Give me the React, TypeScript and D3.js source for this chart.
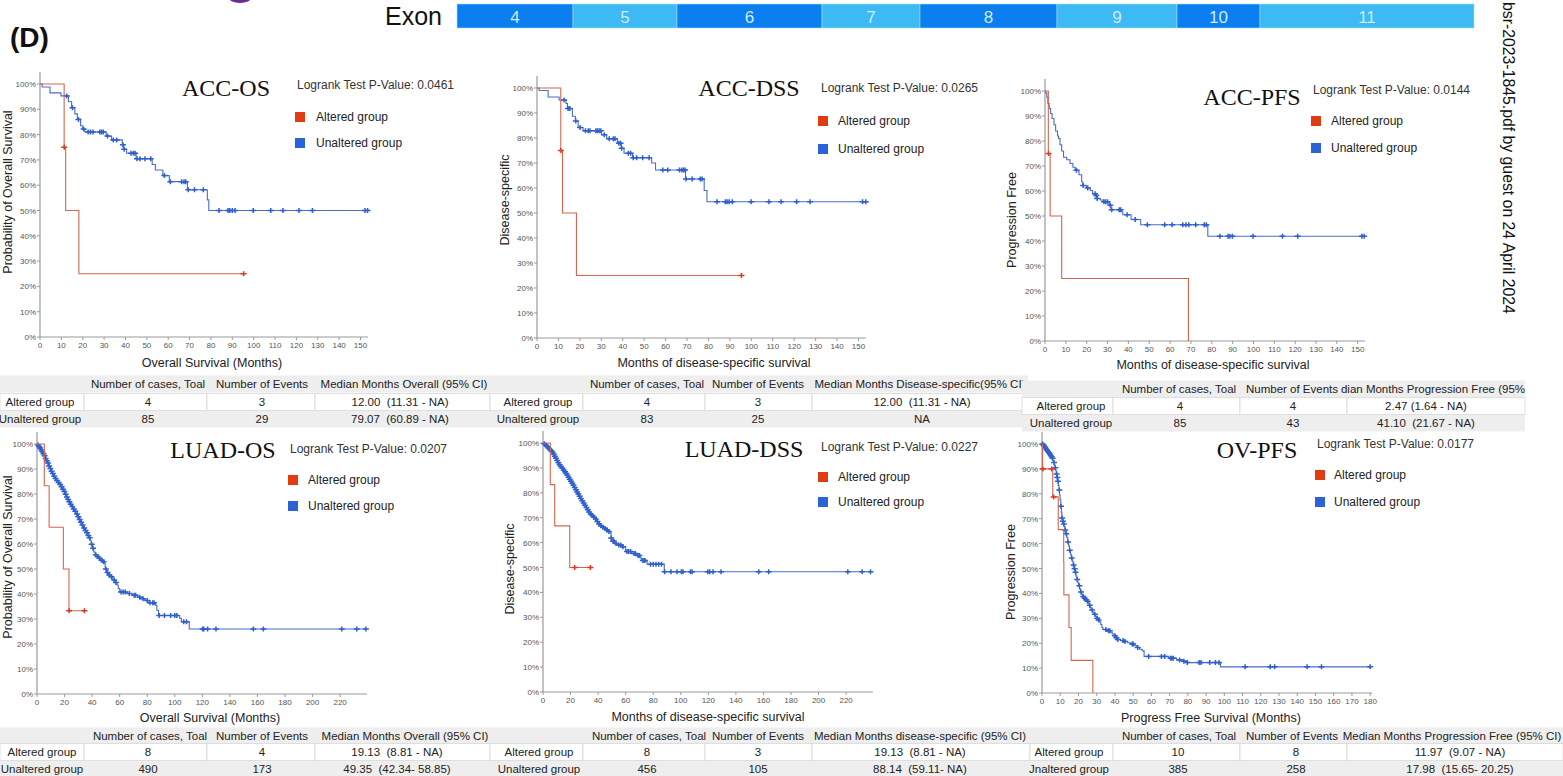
import React from "react";
import * as d3 from "d3";

type Step = [number, number];

// ---------- exon strip ----------
const exonLabels = ["4", "5", "6", "7", "8", "9", "10", "11"];
const exonLengths = [116, 104, 145, 98, 137, 120, 83, 214];

// ---------- ACC overall survival ----------
const accOsAltSteps: Step[] = [[11.3, 75], [12.0, 50], [18.2, 25]];
const accOsAltCens = [11.35, 95.3];
const accOsUnaltSteps: Step[] = [
  [1, 98.8], [4.7, 96.5], [9.8, 95.3], [13.3, 93.0], [14.8, 90.6], [16.3, 88.2], [17.5, 86.0],
  [19, 83.5], [20, 82.2], [21, 81.0], [31, 79.4], [33.5, 77.9], [38.5, 76.0], [39.2, 74.2],
  [40.5, 72.6], [45, 70.5], [52.5, 68.2], [54, 66.0], [57.5, 63.8], [60.5, 61.4], [69, 58.2],
  [78.3, 54.2], [79, 50.0],
];
const accOsUnaltCens = [
  12.5, 15.2, 18, 20.4, 22.5, 23.6, 24.8, 28, 28.8, 29.6, 31.6, 34.3, 35.9, 38.8, 39.4, 42.6,
  43.7, 44.5, 45.4, 46.8, 49.1, 51.8, 58.2, 61, 66.3, 67.4, 68.2, 69.4, 72.3, 76.4, 83.8, 88,
  88.8, 90, 91.3, 99.8, 108, 113.7, 121.2, 127.5, 152.1, 153.3,
];

// ---------- ACC disease-specific survival ----------
const accDssAltSteps: Step[] = [[11.1, 75], [11.9, 50], [18.4, 25]];
const accDssAltCens = [11.15, 95.4];
const accDssUnaltSteps: Step[] = [
  [1, 99.0], [5.2, 96.4], [10.3, 95.2], [13.5, 93.8], [14.2, 91.8], [16.5, 88.7], [17.9, 86.8],
  [19.2, 84.2], [21.5, 82.9], [30.1, 81.3], [32.5, 79.7], [37.5, 77.9], [39.3, 75.9], [40.6, 73.9],
  [44.6, 72.1], [53.5, 70.0], [55.3, 67.2], [69.3, 63.6], [78, 59.0], [79.3, 54.5],
];
const accDssUnaltCens = [
  12.6, 14.5, 15.3, 18.1, 20.1, 22.6, 23.9, 24.7, 27.5, 28.2, 29, 29.8, 31.4, 33.7, 35.6, 36.4,
  38.2, 39, 39.5, 42.6, 43.7, 44.9, 46.5, 49.3, 52.3, 58.7, 61, 66.5, 67.6, 68.4, 69.1, 69.5,
  72.4, 76.2, 77, 84, 87.9, 88.7, 89.6, 91.1, 99.9, 108.2, 113.9, 121.1, 127.4, 151.9, 153.4,
];

// ---------- ACC progression-free survival ----------
const accPfsAltSteps: Step[] = [[1.6, 75], [2.47, 50], [8, 25], [68.8, 0]];
const accPfsAltCens = [1.7];
const accPfsUnaltSteps: Step[] = [
  [0.3, 99.2], [0.9, 97.5], [1.4, 95.0], [2, 93.0], [2.7, 91.0], [3.4, 89.0], [4.3, 86.5],
  [5.1, 84.0], [6, 82.0], [6.5, 81.0], [7.2, 78.5], [8, 76.0], [8.9, 73.5], [10.4, 72.5],
  [12, 71.0], [13.4, 69.5], [14.5, 68.3], [16.3, 66.5], [17.6, 63.7], [18.1, 62.2], [20, 61.2],
  [21.7, 60.2], [22.8, 58.9], [24.2, 58.2], [24.8, 57.0], [26.5, 56.4], [28, 55.7], [30.8, 54.3],
  [31.7, 52.5], [36.8, 51.7], [37.3, 50.5], [41.3, 48.6], [45.9, 46.5], [78.1, 41.9],
];
const accPfsUnaltCens = [
  15.1, 18.3, 20.5, 24, 24.6, 25, 28.3, 29.1, 30, 31.3, 32, 35.6, 36.3, 39.4, 43.3, 49.1, 57.4,
  61, 66.1, 67.6, 69, 72.3, 76.4, 77.4, 83.9, 87.8, 88.7, 89.9, 99.8, 113.9, 121.2, 152, 153.1,
];

// ---------- LUAD overall survival ----------
const luadOsAltSteps: Step[] = [[5.3, 83.3], [8.8, 66.7], [19.1, 50], [23.2, 33.3]];
const luadOsAltCens = [23.3, 34.4];
const luadOsUnaltSteps: Step[] = [
  [0.5, 99.6], [1.2, 99.0], [2, 98.4], [2.8, 97.6], [3.5, 96.9], [4.3, 96.1], [5.1, 95.3],
  [6, 94.2], [6.8, 93.3], [7.6, 92.4], [8.5, 91.2], [9.3, 90.2], [10.2, 89.1], [11, 88.2],
  [12, 87.1], [13, 86.2], [14, 85.4], [15.2, 84.6], [16.3, 83.8], [17.4, 82.9], [18.4, 81.9],
  [19.5, 81.0], [20.4, 79.9], [21.2, 78.8], [22.1, 77.8], [23, 76.9], [24, 75.9], [25, 75.0],
  [26.2, 74.0], [27.3, 73.1], [28.5, 72.0], [29.5, 70.9], [30.6, 69.8], [31.5, 68.7], [32.6, 67.6],
  [33.6, 66.4], [34.7, 65.4], [35.8, 64.5], [36.9, 63.4], [37.8, 62.5], [38.6, 61.4], [39.3, 59.9],
  [40.2, 58.3], [41.2, 56.8], [42.2, 55.7], [43.5, 55.0], [44.8, 54.3], [46, 53.5], [47.5, 52.9],
  [48.8, 52.2], [49.5, 50.0], [50.5, 48.6], [51.8, 47.6], [53.2, 46.9], [55, 45.6], [56.5, 44.6],
  [58, 43.6], [59, 42.2], [60, 40.8], [65.5, 40.2], [69, 39.5], [73, 38.7], [76, 38.1],
  [78.5, 37.4], [80.5, 36.5], [86, 35.5], [87, 33.4], [88.2, 31.4], [103.5, 30.3], [104.8, 28.9],
  [110.5, 26.0],
];
const luadOsUnaltCens = [
  0.8, 1.5, 2.3, 3.1, 3.9, 4.7, 5.5, 6.3, 7.1, 8, 8.8, 9.7, 10.6, 11.5, 12.5, 13.5, 14.6, 15.7,
  16.8, 17.9, 18.9, 19.9, 20.8, 21.7, 22.6, 23.5, 24.5, 25.6, 26.7, 27.8, 29, 30, 31, 32, 33,
  34.2, 35.2, 36.3, 37.3, 38.2, 39.7, 40.7, 42.7, 44, 45.3, 47, 48.3, 50, 51.2, 52.5, 54, 56,
  57.3, 61, 62.5, 64, 67, 70.5, 71.5, 74.5, 77, 80, 82, 84, 85, 88.7, 92.5, 97, 100, 101.5,
  106.5, 108.5, 120.2, 121, 123.8, 129.9, 157, 164.3, 221.2, 232.1, 238.7,
];

// ---------- LUAD disease-specific survival ----------
const luadDssAltSteps: Step[] = [[5.3, 83.3], [8.5, 66.7], [19.4, 50]];
const luadDssAltCens = [23, 34.4];
const luadDssUnaltSteps: Step[] = [
  [0.6, 99.7], [1.5, 99.2], [2.5, 98.6], [3.5, 98.0], [4.5, 97.4], [5.5, 96.9], [6.5, 96.3],
  [7.4, 95.5], [8.2, 94.7], [9, 93.9], [9.9, 93.0], [10.8, 92.1], [11.7, 91.3], [12.6, 90.6],
  [13.5, 89.9], [14.5, 89.2], [15.5, 88.5], [16.4, 87.8], [17.3, 87.0], [18.2, 86.2], [19, 85.4],
  [19.9, 84.6], [20.8, 83.8], [21.7, 83.0], [22.6, 82.1], [23.5, 81.2], [24.4, 80.3], [25.3, 79.5],
  [26.2, 78.6], [27.1, 77.7], [28, 76.8], [29, 75.9], [30, 75.0], [31, 74.1], [32, 73.2],
  [33, 72.3], [34.1, 71.5], [35.2, 70.9], [36.5, 70.2], [37.8, 69.5], [39, 68.5], [40.2, 67.5],
  [41.5, 66.8], [43, 66.2], [44.5, 65.7], [46, 65.1], [47.2, 64.5], [48.6, 63.9], [49.4, 61.8],
  [50, 60.5], [52, 59.6], [54.5, 59.0], [57, 58.3], [60, 56.4], [64.5, 55.6], [68, 54.8],
  [70.5, 53.8], [71.5, 52.8], [75.5, 51.3], [88, 48.3],
];
const luadDssUnaltCens = [
  1, 2, 3, 4, 5, 6, 7, 7.8, 8.6, 9.4, 10.3, 11.2, 12.1, 13, 14, 15, 16, 16.8, 17.7, 18.6, 19.4,
  20.3, 21.2, 22.1, 23, 24, 24.8, 25.7, 26.6, 27.5, 28.5, 29.5, 30.5, 31.5, 32.5, 33.5, 34.6,
  35.8, 37, 38.3, 39.5, 40.8, 42, 43.6, 45, 46.5, 47.8, 49.5, 50.8, 51.5, 53, 55, 56.5, 58, 61,
  62, 63.5, 66, 67, 69, 70, 72.5, 73.5, 74, 78, 80, 82, 84, 86, 88.3, 92.9, 97.3, 100.4, 101.6,
  107, 108.2, 119.6, 121, 123.4, 129.2, 156.6, 163.8, 221.2, 231.6, 237.7,
];

// ---------- OV progression-free survival ----------
const ovPfsAltSteps: Step[] = [
  [0.3, 90], [5.9, 78.75], [8.9, 65.6], [11.9, 52.5], [12.0, 39.4], [14.8, 26.3], [16, 13.1], [27.9, 0],
];
const ovPfsAltCens = [0.5, 5.3, 6.4];
const ovPfsUnaltSteps: Step[] = [
  [0.4, 99.6], [0.9, 99.1], [1.4, 98.6], [1.9, 98.0], [2.4, 97.5], [2.9, 97.0], [3.4, 96.5],
  [3.9, 96.0], [4.4, 95.4], [4.9, 94.9], [5.4, 94.3], [5.9, 93.5], [6.3, 92.6], [6.7, 91.6],
  [7.1, 90.5], [7.5, 89.4], [7.8, 88.0], [8.1, 86.5], [8.5, 85.0], [8.9, 83.4], [9.3, 81.5],
  [9.6, 79.5], [9.9, 77.6], [10.3, 75.0], [10.6, 72.6], [10.9, 70.3], [11.3, 69.0], [11.7, 67.9],
  [12.1, 66.8], [12.6, 65.5], [13.1, 64.0], [13.6, 62.5], [14.1, 60.6], [14.6, 59.0], [15.1, 57.3],
  [15.6, 55.7], [16.1, 54.2], [16.6, 52.9], [17.1, 51.4], [17.6, 49.9], [18.1, 48.5], [18.6, 47.0],
  [19.1, 45.6], [19.6, 44.3], [20.1, 43.1], [20.6, 41.8], [21.1, 40.6], [21.7, 39.7], [22.3, 38.8],
  [23, 38.1], [23.8, 37.4], [24.6, 36.8], [25.3, 36.2], [25.9, 35.2], [26.5, 34.2], [27.1, 33.3],
  [27.8, 32.4], [28.5, 31.6], [29.2, 30.8], [30, 30.0], [30.8, 29.3], [31.5, 28.6], [32.2, 27.5],
  [32.8, 26.4], [33.4, 25.5], [35.5, 25.0], [37.5, 24.4], [38.5, 23.7], [39.5, 23.0], [40.5, 22.2],
  [41.3, 21.5], [43, 21.1], [45.2, 20.7], [47, 20.2], [48.5, 19.7], [50.5, 19.0], [52, 18.3],
  [53.5, 17.6], [55, 16.9], [56, 14.7], [69.5, 14.0], [73.8, 13.3], [77, 12.8], [79.7, 12.2],
  [97.9, 10.5],
];
const ovPfsUnaltCens = [
  0.3, 0.8, 1.3, 1.8, 2.3, 2.8, 3.3, 3.8, 4.3, 4.8, 5.3, 5.8, 6.6, 7.3, 8.0, 8.4, 8.8, 9.5, 10.4,
  11.0, 11.5, 12, 12.7, 13.3, 14.3, 15.2, 16.3, 17.3, 17.9, 18.4, 19.3, 20.5, 21.4, 22.6, 23.4,
  24.2, 25, 26.2, 27.5, 29, 30.3, 31, 35, 36.5, 37.2, 40, 40.8, 41.6, 44.5, 45.5, 49.5, 50, 52.5,
  58.5, 65.5, 67.3, 70.5, 71.2, 72, 75.5, 77.8, 79.7, 86.2, 87.2, 92, 95.1, 97.1, 111.4, 125.2,
  127.6, 145.4, 153.3, 180,
];

// ---------- summary tables ----------
const groupLabels = ["Altered group", "Unaltered group"];
const accOsHead = ["Number of cases, Toal", "Number of Events", "Median Months Overall (95% CI)"];
const accOsRows = [["4", "3", "12.00  (11.31 - NA)"], ["85", "29", "79.07  (60.89 - NA)"]];
const accDssHead = ["Number of cases, Toal", "Number of Events", "Median Months Disease-specific(95% CI)"];
const accDssRows = [["4", "3", "12.00  (11.31 - NA)"], ["83", "25", "NA"]];
const accPfsHead = ["Number of cases, Toal", "Number of Events", "dian Months Progression Free (95%"];
const accPfsRows = [["4", "4", "2.47 (1.64 - NA)"], ["85", "43", "41.10  (21.67 - NA)"]];
const luadOsHead = ["Number of cases, Toal", "Number of Events", "Median Months Overall (95% CI)"];
const luadOsRows = [["8", "4", "19.13  (8.81 - NA)"], ["490", "173", "49.35  (42.34- 58.85)"]];
const luadDssHead = ["Number of cases, Toal", "Number of Events", "Median Months disease-specific (95% CI)"];
const luadDssRows = [["8", "3", "19.13  (8.81 - NA)"], ["456", "105", "88.14  (59.11- NA)"]];
const ovPfsHead = ["Number of cases, Toal", "Number of Events", "Median Months Progression Free (95% CI)"];
const ovPfsRows = [["10", "8", "11.97  (9.07 - NA)"], ["385", "258", "17.98  (15.65- 20.25)"]];

const SANS = "'Liberation Sans', Arial, Helvetica, sans-serif";
const SERIF = "'Liberation Serif', 'Times New Roman', serif";

const RED_LINE = "#d4664f";
const RED_MARK = "#d83a1c";
const BLUE_LINE = "#4a6cc2";
const BLUE_MARK = "#2f5fcf";
const RED_KEY = "#e03c12";
const BLUE_KEY = "#2b63d6";

function survivalAt(steps: Step[], t: number): number {
  let s = 100;
  for (const [ts, v] of steps) if (ts <= t) s = v;
  return s;
}

type Scale = d3.ScaleLinear<number, number>;

function Curve(props: { steps: Step[]; censored: number[]; x: Scale; y: Scale; line: string; mark: string }) {
  const { steps, censored, x, y, line, mark } = props;
  const end = Math.max(steps[steps.length - 1][0], ...censored);
  const pts: Step[] = [[0, 100], ...steps, [end, survivalAt(steps, end)]];
  const gen = d3
    .line<Step>()
    .x((d) => x(d[0]))
    .y((d) => y(d[1]))
    .curve(d3.curveStepAfter);
  return (
    <g>
      <path d={gen(pts) || ""} fill="none" stroke={line} strokeWidth={1.1} />
      {censored.map((t, i) => {
        const cx = x(t);
        const cy = y(survivalAt(steps, t));
        return <path key={i} d={`M${cx - 3},${cy}h6M${cx},${cy - 2.5}v5`} stroke={mark} strokeWidth={1.5} />;
      })}
    </g>
  );
}

interface PanelCfg {
  x0: number; x1: number; yTop: number; yBot: number; xMax: number; xStep: number;
  title: string; titleX: number; titleY: number;
  pval: string; pX: number; pY: number;
  keyX: number; keyY1: number; keyY2: number; keyTextX: number;
  xLabel: string; xLabelX: number; xLabelY: number;
  yLabel: string; yLabelX: number; yLabelY: number;
  alt: [Step[], number[]]; unalt: [Step[], number[]];
}

function Panel({ c }: { c: PanelCfg }) {
  const x = d3.scaleLinear().domain([0, c.xMax]).range([c.x0, c.x1]);
  const y = d3.scaleLinear().domain([0, 100]).range([c.yBot, c.yTop]);
  const xTicks = d3.range(0, c.xMax, c.xStep);
  const yTicks = y.ticks(10);
  const axis = "#9a9a9a";
  return (
    <g>
      <line x1={c.x0} x2={c.x0} y1={c.yBot} y2={c.yTop - 12} stroke={axis} strokeWidth={1.2} />
      <line x1={c.x0} x2={c.x1} y1={c.yBot} y2={c.yBot} stroke={axis} strokeWidth={1.2} />
      {yTicks.map((v) => (
        <g key={"y" + v}>
          <line x1={c.x0 - 3} x2={c.x0} y1={y(v)} y2={y(v)} stroke={axis} />
          <text x={c.x0 - 4} y={y(v) + 3} textAnchor="end" fontSize={8} fill="#555" fontFamily={SANS}>
            {v}%
          </text>
        </g>
      ))}
      {xTicks.map((v) => (
        <g key={"x" + v}>
          <line x1={x(v)} x2={x(v)} y1={c.yBot} y2={c.yBot + 3} stroke={axis} />
          <text x={x(v)} y={c.yBot + 11} textAnchor="middle" fontSize={8} fill="#555" fontFamily={SANS}>
            {v}
          </text>
        </g>
      ))}
      <Curve steps={c.unalt[0]} censored={c.unalt[1]} x={x} y={y} line={BLUE_LINE} mark={BLUE_MARK} />
      <Curve steps={c.alt[0]} censored={c.alt[1]} x={x} y={y} line={RED_LINE} mark={RED_MARK} />
      <text x={c.titleX} y={c.titleY} textAnchor="middle" fontFamily={SERIF} fontSize={24} fill="#111">
        {c.title}
      </text>
      <text x={c.pX} y={c.pY} fontFamily={SANS} fontSize={12} fill="#333">
        {c.pval}
      </text>
      <rect x={c.keyX} y={c.keyY1} width={10} height={10} fill={RED_KEY} />
      <rect x={c.keyX} y={c.keyY2} width={10} height={10} fill={BLUE_KEY} />
      <text x={c.keyTextX} y={c.keyY1 + 9} fontFamily={SANS} fontSize={12} fill="#222">
        Altered group
      </text>
      <text x={c.keyTextX} y={c.keyY2 + 9} fontFamily={SANS} fontSize={12} fill="#222">
        Unaltered group
      </text>
      <text x={c.xLabelX} y={c.xLabelY} textAnchor="middle" fontFamily={SANS} fontSize={12.5} fill="#222">
        {c.xLabel}
      </text>
      <text
        transform={`translate(${c.yLabelX},${c.yLabelY}) rotate(-90)`}
        textAnchor="middle"
        dy="0.35em"
        fontFamily={SANS}
        fontSize={12.5}
        fill="#222"
      >
        {c.yLabel}
      </text>
    </g>
  );
}

interface TableCfg {
  rowY: number[]; edges: number[]; headX: number[]; labelX: number; valX: number[];
  head: string[]; rows: string[][]; labels: string[];
}

function Table({ t }: { t: TableCfg }) {
  const h = 17;
  const left = t.edges[0];
  const right = t.edges[t.edges.length - 1];
  const txt = { fontFamily: SANS, fontSize: 11.5, fill: "#222", textAnchor: "middle" as const, style: { whiteSpace: "pre" as const } };
  return (
    <g>
      <rect x={left} y={t.rowY[0] - h / 2} width={right - left} height={h} fill="#eeeeee" />
      <rect x={left} y={t.rowY[2] - h / 2} width={right - left} height={h} fill="#eeeeee" />
      {t.edges.slice(0, -1).map((e, i) => (
        <rect key={i} x={e} y={t.rowY[1] - h / 2} width={t.edges[i + 1] - e} height={h} fill="#fff" stroke="#d8d8d8" strokeWidth={0.8} />
      ))}
      {t.head.map((s, i) => (
        <text key={"h" + i} x={t.headX[i]} y={t.rowY[0] + 4} {...txt}>{s}</text>
      ))}
      {t.labels.map((s, r) => (
        <text key={"l" + r} x={t.labelX} y={t.rowY[r + 1] + 4} {...txt}>{s}</text>
      ))}
      {t.rows.map((row, r) =>
        row.map((s, i) => (
          <text key={`v${r}-${i}`} x={t.valX[i]} y={t.rowY[r + 1] + 4} {...txt}>{s}</text>
        ))
      )}
    </g>
  );
}

const panels: PanelCfg[] = [
  {
    x0: 40, x1: 368, yTop: 84, yBot: 337, xMax: 153.5, xStep: 10,
    title: "ACC-OS", titleX: 226, titleY: 96, pval: "Logrank Test P-Value: 0.0461", pX: 297, pY: 89,
    keyX: 295, keyY1: 112, keyY2: 138, keyTextX: 316,
    xLabel: "Overall Survival (Months)", xLabelX: 212, xLabelY: 367,
    yLabel: "Probability of Overall Survival", yLabelX: 8, yLabelY: 192,
    alt: [accOsAltSteps, accOsAltCens], unalt: [accOsUnaltSteps, accOsUnaltCens],
  },
  {
    x0: 537, x1: 866, yTop: 88, yBot: 338, xMax: 153.5, xStep: 10,
    title: "ACC-DSS", titleX: 749, titleY: 96, pval: "Logrank Test P-Value: 0.0265", pX: 821, pY: 92,
    keyX: 818, keyY1: 116, keyY2: 144, keyTextX: 838,
    xLabel: "Months of disease-specific survival", xLabelX: 714, xLabelY: 367,
    yLabel: "Disease-specific", yLabelX: 505, yLabelY: 200,
    alt: [accDssAltSteps, accDssAltCens], unalt: [accDssUnaltSteps, accDssUnaltCens],
  },
  {
    x0: 1045, x1: 1365, yTop: 91, yBot: 341, xMax: 153.5, xStep: 10,
    title: "ACC-PFS", titleX: 1252, titleY: 105, pval: "Logrank Test P-Value: 0.0144", pX: 1313, pY: 94,
    keyX: 1311, keyY1: 116, keyY2: 143, keyTextX: 1331,
    xLabel: "Months of disease-specific survival", xLabelX: 1213, xLabelY: 369,
    yLabel: "Progression Free", yLabelX: 1012, yLabelY: 220,
    alt: [accPfsAltSteps, accPfsAltCens], unalt: [accPfsUnaltSteps, accPfsUnaltCens],
  },
  {
    x0: 37, x1: 367, yTop: 444, yBot: 694, xMax: 239.5, xStep: 20,
    title: "LUAD-OS", titleX: 223, titleY: 458, pval: "Logrank Test P-Value: 0.0207", pX: 290, pY: 453,
    keyX: 288, keyY1: 475, keyY2: 501, keyTextX: 308,
    xLabel: "Overall Survival (Months)", xLabelX: 210, xLabelY: 722,
    yLabel: "Probability of Overall Survival", yLabelX: 8, yLabelY: 557,
    alt: [luadOsAltSteps, luadOsAltCens], unalt: [luadOsUnaltSteps, luadOsUnaltCens],
  },
  {
    x0: 543, x1: 873, yTop: 443, yBot: 692, xMax: 239.5, xStep: 20,
    title: "LUAD-DSS", titleX: 744, titleY: 457, pval: "Logrank Test P-Value: 0.0227", pX: 821, pY: 451,
    keyX: 818, keyY1: 472, keyY2: 497, keyTextX: 838,
    xLabel: "Months of disease-specific survival", xLabelX: 708, xLabelY: 721,
    yLabel: "Disease-specific", yLabelX: 510, yLabelY: 569,
    alt: [luadDssAltSteps, luadDssAltCens], unalt: [luadDssUnaltSteps, luadDssUnaltCens],
  },
  {
    x0: 1042, x1: 1372, yTop: 444, yBot: 693, xMax: 181, xStep: 10,
    title: "OV-PFS", titleX: 1257, titleY: 458, pval: "Logrank Test P-Value: 0.0177", pX: 1317, pY: 448,
    keyX: 1315, keyY1: 470, keyY2: 497, keyTextX: 1334,
    xLabel: "Progress Free Survival (Months)", xLabelX: 1211, xLabelY: 722,
    yLabel: "Progression Free", yLabelX: 1011, yLabelY: 572,
    alt: [ovPfsAltSteps, ovPfsAltCens], unalt: [ovPfsUnaltSteps, ovPfsUnaltCens],
  },
];

const tables: TableCfg[] = [
  { rowY: [384, 402, 419], edges: [0, 84, 207, 315, 490], headX: [148, 262, 404], labelX: 40, valX: [148, 262, 400], head: accOsHead, rows: accOsRows, labels: groupLabels },
  { rowY: [384, 402, 419], edges: [490, 583, 705, 812, 1028], headX: [647, 758, 920], labelX: 538, valX: [647, 758, 922], head: accDssHead, rows: accDssRows, labels: groupLabels },
  { rowY: [389, 406, 423], edges: [1022, 1113, 1240, 1347, 1525], headX: [1179, 1292, 1433], labelX: 1071, valX: [1180, 1293, 1426], head: accPfsHead, rows: accPfsRows, labels: groupLabels },
  { rowY: [736, 752, 769], edges: [0, 84, 207, 315, 490], headX: [150, 262, 405], labelX: 42, valX: [148, 262, 397], head: luadOsHead, rows: luadOsRows, labels: groupLabels },
  { rowY: [736, 752, 769], edges: [490, 583, 705, 812, 1030], headX: [649, 758, 920], labelX: 539, valX: [647, 758, 920], head: luadDssHead, rows: luadDssRows, labels: groupLabels },
  { rowY: [736, 752, 769], edges: [1030, 1113, 1240, 1347, 1563], headX: [1179, 1292, 1452], labelX: 1069, valX: [1178, 1296, 1460], head: ovPfsHead, rows: ovPfsRows, labels: ["Altered group", "Jnaltered group"] },
];

function ExonStrip() {
  const cum = d3.cumsum(exonLengths);
  const total = cum[cum.length - 1];
  const x = d3.scaleLinear().domain([0, total]).range([457, 1474]);
  return (
    <g>
      <text x={385} y={25} fontFamily={SANS} fontSize={25} fill="#111">Exon</text>
      {exonLabels.map((lab, i) => {
        const a = x(i === 0 ? 0 : cum[i - 1]);
        const b = x(cum[i]);
        return (
          <g key={lab}>
            <rect x={a} y={4} width={b - a} height={24} fill={i % 2 === 0 ? "#0b7ff0" : "#3db9f4"} stroke="#a9d9f7" strokeWidth={0.6} />
            <text x={(a + b) / 2} y={22.5} textAnchor="middle" fontFamily={SANS} fontSize={17} fill="#cfeaff">
              {lab}
            </text>
          </g>
        );
      })}
    </g>
  );
}

export default function App() {
  return (
    <svg
      width={1563}
      height={776}
      viewBox="0 0 1563 776"
      style={{ position: "absolute", left: 0, top: 0, display: "block", background: "#fff" }}
    >
      <rect width={1563} height={776} fill="#fff" />
      <ellipse cx={240} cy={-2} rx={11} ry={5} fill="#6b2a8c" />
      <text x={10} y={47} fontFamily={SANS} fontWeight="bold" fontSize={28} fill="#111">(D)</text>
      <ExonStrip />
      {panels.map((p) => (
        <Panel key={p.title} c={p} />
      ))}
      {tables.map((t, i) => (
        <Table key={i} t={t} />
      ))}
      <text transform="translate(1503,2) rotate(90)" textAnchor="start" fontFamily={SANS} fontSize={15.8} fill="#111">
        bsr-2023-1845.pdf by guest on 24 April 2024
      </text>
    </svg>
  );
}
